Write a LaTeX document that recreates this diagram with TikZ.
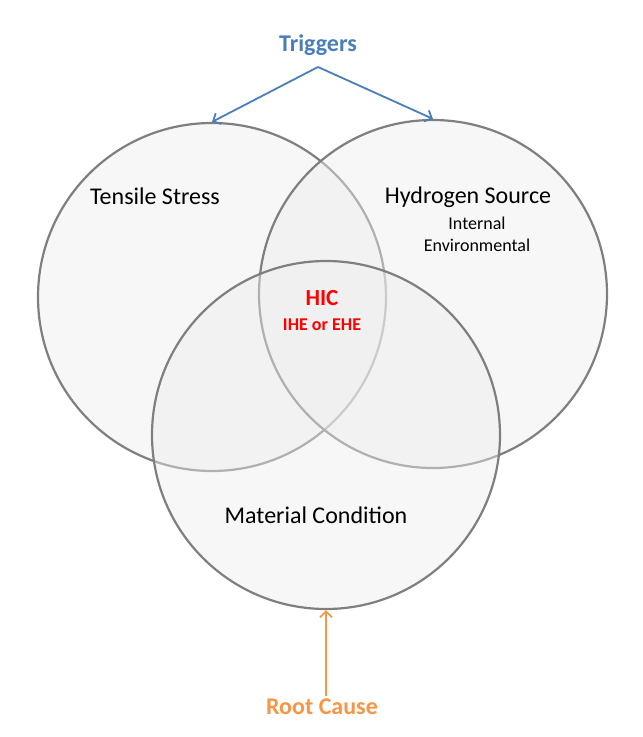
\documentclass[tikz,border=0pt]{standalone}
\usepackage{fontspec}
\setmainfont{Carlito}
\usetikzlibrary{positioning, arrows.meta}

\definecolor{ringgray}{RGB}{127,127,127}
\definecolor{ringfill}{RGB}{237,237,237}
\definecolor{trigblue}{RGB}{74,126,187}
\definecolor{causeorange}{RGB}{247,150,70}
\definecolor{hicred}{RGB}{255,0,0}

\begin{document}
\begin{tikzpicture}[x=1pt,y=-1pt,
    ring/.style={circle,draw=ringgray,line width=2.2pt,fill=ringfill,fill opacity=0.45,
      minimum size=348pt,inner sep=0pt},
    bigtext/.style={font=\fontsize{24}{29}\selectfont},
    smalltext/.style={font=\fontsize{18}{22}\selectfont,inner sep=0pt},
    pointer/.style={-{Straight Barb[length=6pt,width=12pt]},line width=1.8pt}]
    \useasboundingbox (0,0) rectangle (643,737);
    % the three rings
    \node [ring] (stress) at (212,297) {};
    \node [ring] (source) at (433,294) {};
    \node [ring] (material) at (326,435) {};
    % ring labels
    \node [bigtext] (stresslbl) at (155,196) {Tensile Stress};
    \node [bigtext] (sourcelbl) at (468,197) {Hydrogen Source};
    \node [smalltext] (internal) at (477,223) {Internal};
    \node [smalltext] (environ) at (477,245) {Environmental};
    \node [bigtext] (materiallbl) at (316,515) {Material Condition};
    \node [font=\fontsize{23}{27}\selectfont\bfseries,text=hicred] (hic) at (322,298) {HIC};
    \node [font=\fontsize{18}{22}\selectfont\bfseries,text=hicred] (hictype) at (322,325) {IHE or EHE};
    % triggers and root cause
    \node [font=\fontsize{24}{29}\selectfont\bfseries,text=trigblue] (triggers) at (318,45) {Triggers};
    \coordinate [below=8pt of triggers] (split);
    \draw [pointer,trigblue] (split) -- (stress.north);
    \draw [pointer,trigblue] (split) -- (source.north);
    \node [font=\fontsize{24}{29}\selectfont\bfseries,text=causeorange] (cause) at (322,707) {Root Cause};
    \draw [pointer,causeorange] (material.south |- cause.north) -- (material.south);
\end{tikzpicture}
\end{document}
